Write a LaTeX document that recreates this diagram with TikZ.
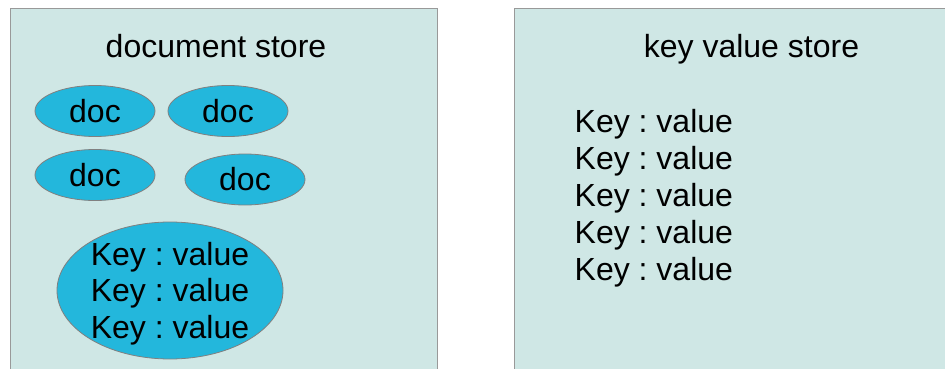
\documentclass[tikz,border=0pt]{standalone}
\usepackage{fontspec}
\setmainfont{Liberation Sans}
\usetikzlibrary{shapes.geometric,positioning}
\definecolor{panelfill}{RGB}{207,231,229}
\definecolor{docfill}{RGB}{35,183,220}
\definecolor{edgegray}{RGB}{128,128,128}
\frenchspacing

\begin{document}
\begin{tikzpicture}[x=1pt,y=-1pt,
      panel/.style={draw=edgegray!80,fill=panelfill,line width=0.8pt},
      docblob/.style={ellipse,draw=edgegray,fill=docfill,line width=0.8pt,
                      minimum width=120pt,minimum height=51pt,inner sep=0pt,
                      font=\fontsize{32}{37}\selectfont},
      txt/.style={inner sep=0pt,font=\fontsize{32}{37}\selectfont}]
    \useasboundingbox (0,0) rectangle (945,369);
    \clip (0,0) rectangle (945,369);
    \fill[white] (0,0) rectangle (945,369);
    % the two stores
    \draw[panel] (10,8) rectangle (437,390);
    \draw[panel] (514,8) rectangle (990,390);
    \node[txt,anchor=base] (dstitle) at (216,58) {document store};
    \node[txt,anchor=base] (kvtitle) at (751.5,58) {key value store};
    % documents
    \node[docblob] (doca) at (95,111) {doc};
    \node[docblob] (docb) at (228,111) {doc};
    \node[docblob] (docc) at (95,175) {doc};
    \node[docblob] (docd) at (245,179.5) {doc};
    \node[docblob,minimum width=226pt,minimum height=137pt] (docbig) at (170,290.5) {};
    \foreach \i/\y in {1/265,2/301.7,3/338.3}
      \node[txt,anchor=base] (docline\i) at (170,\y) {Key : value};
    % plain pairs
    \foreach \i in {0,...,4}
      \node[txt,anchor=base west] (kvline\i) at (574.5,132.7+37*\i) {Key : value};
  \end{tikzpicture}
\end{document}
